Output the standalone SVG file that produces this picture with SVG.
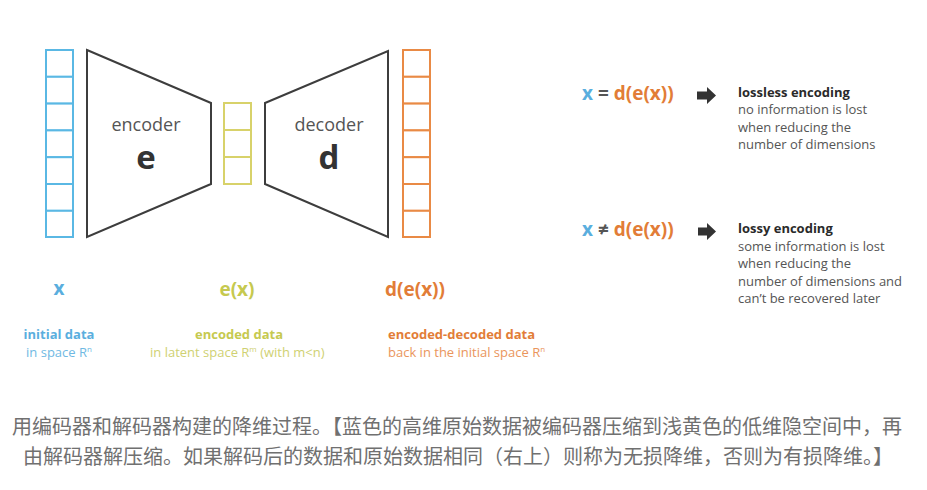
<svg xmlns="http://www.w3.org/2000/svg" width="927" height="490" viewBox="0 0 927 490">
<style>
.cell{fill:#fff;stroke-width:2}
.blue{stroke:#5ab8e4}
.yel{stroke:#d8d26a}
.org{stroke:#e98a45}
.trap{fill:#fff;stroke:#3d3d3d;stroke-width:2;stroke-linejoin:miter}
.f{font-family:"Open Sans","Liberation Sans",sans-serif}
.lbl{font-size:18px;fill:#555}
.big{font-size:33px;font-weight:700;fill:#333}
.eq{font-size:19px;font-weight:700}
.h{font-size:13px;font-weight:700;fill:#2a2a2a}
.t{font-size:13px;fill:#555}
.cn{font-family:"Noto Sans CJK SC","Noto Sans",sans-serif;font-size:20px;fill:#707070}
.cb{fill:#5aaede}.cb2{fill:#6fb9e3}
.cy{fill:#c6c94f}.cy2{fill:#cfd172}
.co{fill:#e27d37}.co2{fill:#ea955c}
.arr{fill:#333}
</style>
<g id="input-x">
<rect class="cell blue" x="46" y="50" width="27" height="26.8"/>
<rect class="cell blue" x="46" y="76.8" width="27" height="26.8"/>
<rect class="cell blue" x="46" y="103.6" width="27" height="26.8"/>
<rect class="cell blue" x="46" y="130.4" width="27" height="26.8"/>
<rect class="cell blue" x="46" y="157.2" width="27" height="26.8"/>
<rect class="cell blue" x="46" y="184" width="27" height="26.8"/>
<rect class="cell blue" x="46" y="210.8" width="27" height="26.2"/>
</g>
<g id="encoder">
<polygon class="trap" points="87,50 211,103 211,184 87,237"/>
<text class="f lbl" x="146" y="131" text-anchor="middle">encoder</text>
<text class="f big" x="146" y="169" text-anchor="middle">e</text>
</g>
<g id="latent">
<rect class="cell yel" x="224" y="103" width="27" height="27"/>
<rect class="cell yel" x="224" y="130" width="27" height="27"/>
<rect class="cell yel" x="224" y="157" width="27" height="27"/>
</g>
<g id="decoder">
<polygon class="trap" points="265,103 388,51 388,237 265,184"/>
<text class="f lbl" x="329" y="131" text-anchor="middle">decoder</text>
<text class="f big" x="329" y="169" text-anchor="middle">d</text>
</g>
<g id="output">
<rect class="cell org" x="403" y="50" width="27" height="26.8"/>
<rect class="cell org" x="403" y="76.8" width="27" height="26.8"/>
<rect class="cell org" x="403" y="103.6" width="27" height="26.8"/>
<rect class="cell org" x="403" y="130.4" width="27" height="26.8"/>
<rect class="cell org" x="403" y="157.2" width="27" height="26.8"/>
<rect class="cell org" x="403" y="184" width="27" height="26.8"/>
<rect class="cell org" x="403" y="210.8" width="27" height="26.2"/>
</g>
<g id="labels">
<text class="f eq cb" x="59" y="295" text-anchor="middle">x</text>
<text class="f eq cy" x="237" y="296" text-anchor="middle">e(x)</text>
<text class="f eq co" x="385" y="296">d(e(x))</text>
<text class="f h cb" x="59" y="339" text-anchor="middle">initial data</text>
<text class="f t cb2" x="59" y="357" text-anchor="middle">in space R<tspan font-size="8" dy="-5">n</tspan></text>
<text class="f h cy" x="239" y="339" text-anchor="middle">encoded data</text>
<text class="f t cy2" x="150" y="357">in latent space R<tspan font-size="8" dy="-5">m</tspan><tspan dy="5"> (with m&lt;n)</tspan></text>
<text class="f h co" x="388" y="339">encoded-decoded data</text>
<text class="f t co2" x="388" y="357">back in the initial space R<tspan font-size="8" dy="-5">n</tspan></text>
</g>
<g id="lossless">
<text class="f eq" x="582" y="100"><tspan class="cb">x</tspan><tspan fill="#555"> = </tspan><tspan class="co">d(e(x))</tspan></text>
<path class="arr" d="M697,91.5 L707,91.5 L707,87 L716,95.5 L707,104 L707,99.5 L697,99.5 Z"/>
<text class="f h" x="738" y="97">lossless encoding</text>
<text class="f t" x="738" y="114">no information is lost</text>
<text class="f t" x="738" y="132">when reducing the</text>
<text class="f t" x="738" y="149">number of dimensions</text>
</g>
<g id="lossy">
<text class="f eq" x="582" y="236"><tspan class="cb">x</tspan><tspan fill="#555"> ≠ </tspan><tspan class="co">d(e(x))</tspan></text>
<path class="arr" d="M698,227.5 L707,227.5 L707,223 L716,231.5 L707,240 L707,235.5 L698,235.5 Z"/>
<text class="f h" x="738" y="233">lossy encoding</text>
<text class="f t" x="738" y="251">some information is lost</text>
<text class="f t" x="738" y="268">when reducing the</text>
<text class="f t" x="738" y="286">number of dimensions and</text>
<text class="f t" x="738" y="303">can’t be recovered later</text>
</g>
<g id="caption">
<text class="cn" x="12" y="434">用编码器和解码器构建的降维过程。【蓝色的高维原始数据被编码器压缩到浅黄色的低维隐空间中，再</text>
<text class="cn" x="23" y="464">由解码器解压缩。如果解码后的数据和原始数据相同（右上）则称为无损降维，否则为有损降维。】</text>
</g>
<g id="connectors"></g>
</svg>
